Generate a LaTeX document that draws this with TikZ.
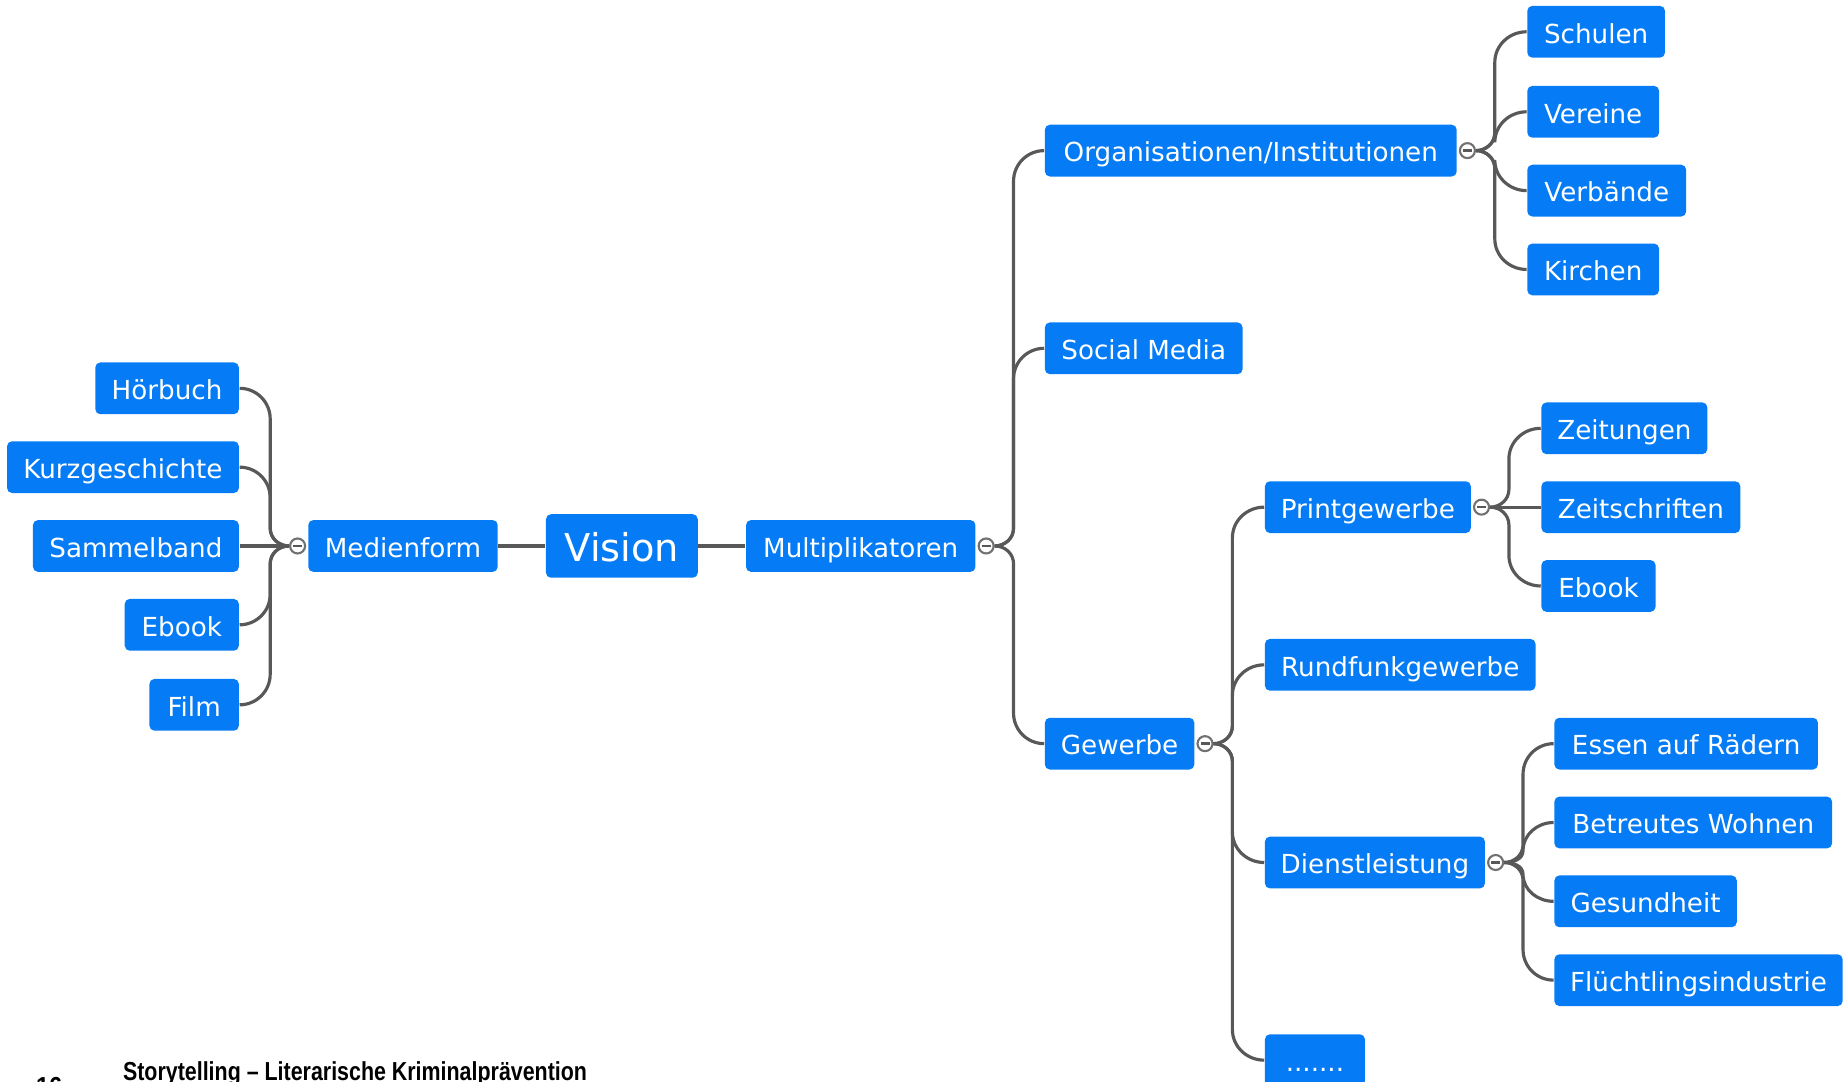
\documentclass[tikz,border=0pt]{standalone}
\usepackage{fontspec}
\setmainfont{DejaVu Sans}
\newfontfamily\footfont{Liberation Sans}
\usetikzlibrary{calc}
\definecolor{nodeblue}{RGB}{5,124,245}
\definecolor{linegray}{RGB}{88,88,88}
\newcommand\bx[7][]{\node[box,#1,minimum width={(#5-#3)*0.011767cm},minimum height={(#6-#4)*0.011767cm}] (#2) at ({(#3+#5)/2},{(#4+#6)/2}) {#7};}
\newcommand\upR[2]{\draw[conn] (#1.east) to[out=0,in=-90] ++(16,-15) coordinate (t) -- ($(t |- #2.west)+(0,26)$) to[out=90,in=180] (#2.west);}
\newcommand\dnR[2]{\draw[conn] (#1.east) to[out=0,in=90] ++(16,15) coordinate (t) -- ($(t |- #2.west)+(0,-26)$) to[out=-90,in=180] (#2.west);}
\newcommand\upRs[2]{\draw[conn] (#1.east) to[out=0,in=-90] ++(16,-10) to[out=90,in=180] (#2.west);}
\newcommand\dnRs[2]{\draw[conn] (#1.east) to[out=0,in=90] ++(16,10) to[out=-90,in=180] (#2.west);}
\newcommand\upL[2]{\draw[conn] (#1.west) to[out=180,in=-90] ++(-16,-15) coordinate (t) -- ($(t |- #2.east)+(0,26)$) to[out=90,in=0] (#2.east);}
\newcommand\dnL[2]{\draw[conn] (#1.west) to[out=180,in=90] ++(-16,15) coordinate (t) -- ($(t |- #2.east)+(0,-26)$) to[out=-90,in=0] (#2.east);}
\begin{document}
\begin{tikzpicture}[x=0.011767cm,y=-0.011767cm,
  box/.style={rectangle,rounded corners=0.05cm,fill=nodeblue,text=white,inner sep=0pt,
    font=\fontsize{7.45}{8}\selectfont,text height=7.8pt,text depth=1.4pt},
  big/.style={font=\fontsize{10.9}{12}\selectfont,text height=10.3pt,text depth=1.6pt},
  conn/.style={draw=linegray,line width=0.9pt},
  circ/.style={circle,draw=linegray!85,fill=white,line width=0.6pt,minimum size=0.15cm,inner sep=0pt,
    path picture={\draw[linegray,line width=0.7pt] ([xshift=-0.045cm]path picture bounding box.center) -- ([xshift=0.045cm]path picture bounding box.center);}}]
\useasboundingbox (0,0) rectangle (1568,919);
\clip (0,0) rectangle (1568,919);
% nodes
\bx{schulen}{1298}{5}{1415}{49}{Schulen}
\bx{vereine}{1298}{73}{1410}{117}{Vereine}
\bx{verbaende}{1298}{140}{1433}{184}{Verbände}
\bx{kirchen}{1298}{207}{1410}{251}{Kirchen}
\bx{org}{888}{106}{1238}{150}{Organisationen/Institutionen}
\bx{social}{888}{274}{1056}{318}{Social Media}
\bx{hoerbuch}{81}{308}{203}{352}{Hörbuch}
\bx{kurz}{6}{375}{203}{419}{Kurzgeschichte}
\bx{sammel}{28}{442}{203}{486}{Sammelband}
\bx{ebookL}{106}{509}{203}{553}{Ebook}
\bx{film}{127}{577}{203}{621}{Film}
\bx{medien}{262}{442}{423}{486}{Medienform}
\bx[big]{vision}{464}{437}{593}{491}{Vision}
\bx{multi}{634}{442}{829}{486}{Multiplikatoren}
\bx{zeitungen}{1310}{342}{1451}{386}{Zeitungen}
\bx{print}{1075}{409}{1250}{453}{Printgewerbe}
\bx{zeitschr}{1310}{409}{1479}{453}{Zeitschriften}
\bx{ebookR}{1310}{476}{1407}{520}{Ebook}
\bx{rundfunk}{1075}{543}{1305}{587}{Rundfunkgewerbe}
\bx{gewerbe}{888}{610}{1015}{654}{Gewerbe}
\bx{essen}{1321}{610}{1545}{654}{Essen auf Rädern}
\bx{betreut}{1321}{677}{1557}{721}{Betreutes Wohnen}
\bx{dienst}{1075}{711}{1262}{755}{Dienstleistung}
\bx{gesund}{1321}{744}{1476}{788}{Gesundheit}
\bx{fluecht}{1321}{811}{1566}{855}{Flüchtlingsindustrie}
\bx{dots}{1075}{879}{1160}{923}{.......}
% collapse circles
\node[circ] (cMed) at ($(medien.west)+(-8.5,0)$) {};
\node[circ] (cMulti) at ($(multi.east)+(8.5,0)$) {};
\node[circ] (cOrg) at ($(org.east)+(8.5,0)$) {};
\node[circ] (cPrint) at ($(print.east)+(8.5,0)$) {};
\node[circ] (cGew) at ($(gewerbe.east)+(8.5,0)$) {};
\node[circ] (cDienst) at ($(dienst.east)+(8.5,0)$) {};
% connectors
\draw[conn] (medien.east) -- (vision.west);
\draw[conn] (vision.east) -- (multi.west);
\upL{cMed}{hoerbuch}
\upL{cMed}{kurz}
\draw[conn] (cMed.west) -- (sammel.east);
\dnL{cMed}{ebookL}
\dnL{cMed}{film}
\upR{cMulti}{org}
\upR{cMulti}{social}
\dnR{cMulti}{gewerbe}
\upR{cOrg}{schulen}
\upR{cOrg}{vereine}
\dnR{cOrg}{verbaende}
\dnR{cOrg}{kirchen}
\upR{cPrint}{zeitungen}
\draw[conn] (cPrint.east) -- (zeitschr.west);
\dnR{cPrint}{ebookR}
\upR{cGew}{print}
\upR{cGew}{rundfunk}
\dnR{cGew}{dienst}
\dnR{cGew}{dots}
\upR{cDienst}{essen}
\upRs{cDienst}{betreut}
\dnRs{cDienst}{gesund}
\dnR{cDienst}{fluecht}
% footer
\node[anchor=base west,inner sep=0pt,font=\footfont\bfseries\fontsize{7.4}{8}\selectfont] (title) at (104,918) {\scalebox{0.823}[1]{Storytelling – Literarische Kriminalprävention}};
\node[anchor=base west,inner sep=0pt,font=\footfont\bfseries\fontsize{7.4}{8}\selectfont] (page) at (30,931) {\scalebox{0.9}[1]{16}};
\end{tikzpicture}
\end{document}
